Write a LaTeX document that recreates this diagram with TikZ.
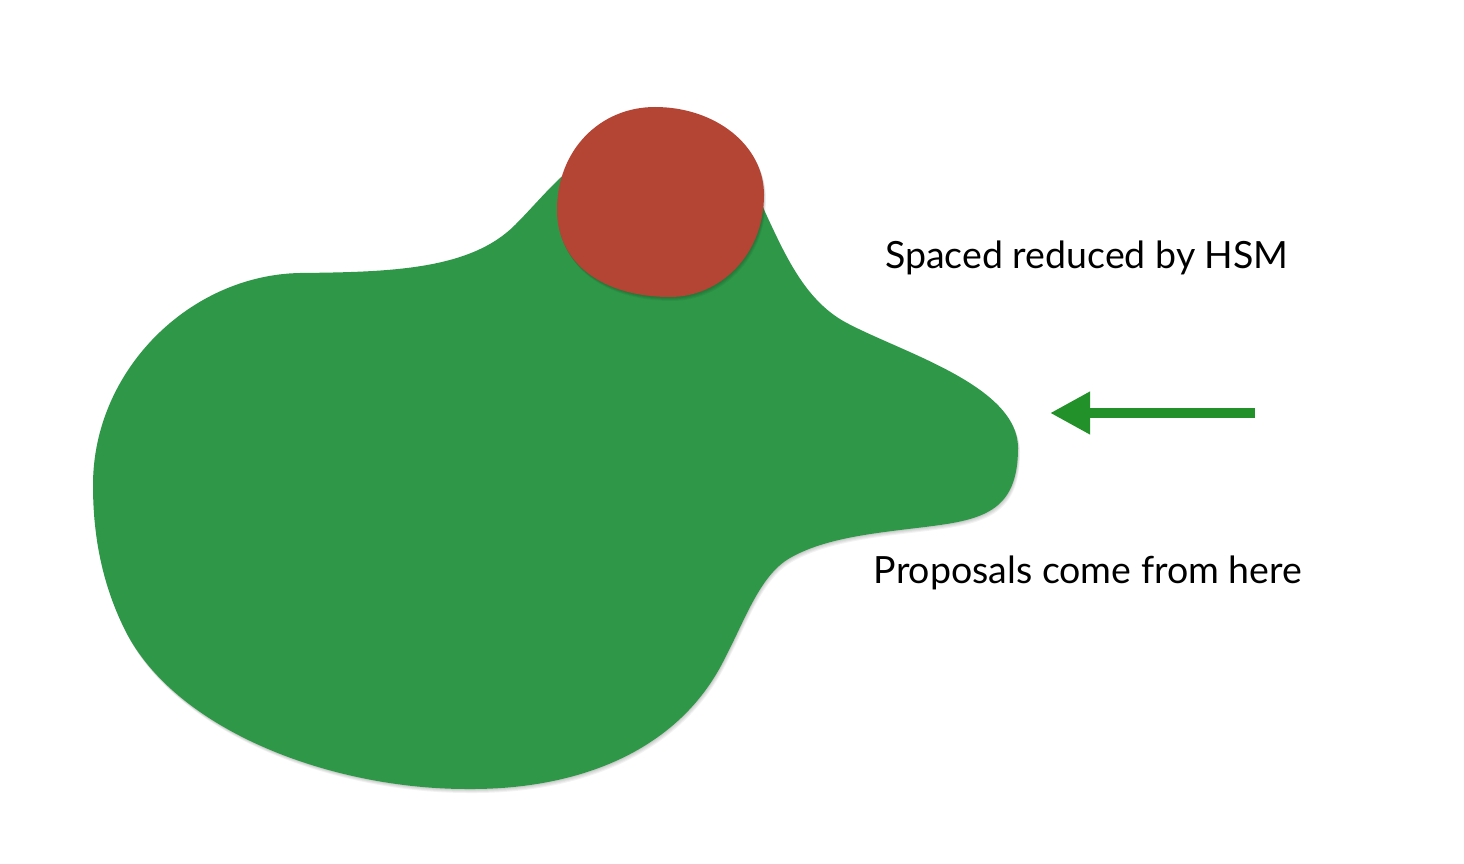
\documentclass[tikz,border=0pt]{standalone}
\usepackage{fontspec}
\setmainfont{Lato}
\usetikzlibrary{arrows.meta}
\definecolor{blobgreen}{RGB}{47,152,72}
\definecolor{blobred}{RGB}{180,68,52}
\definecolor{arrowgreen}{RGB}{34,145,42}
\tikzset{
  lbl/.style={font=\fontsize{37.5}{44}\selectfont, text=black, inner sep=0pt},
  pointer/.style={draw=arrowgreen, line width=10pt, -{Triangle[length=40pt,width=40pt]}},
  softshadow/.style={fill=black, opacity=0.05}
}
\def\greenpath{(93,485) .. controls (93,370) and (190,275) .. (300,273)
  .. controls (390,272) and (470,270) .. (515,225)
  .. controls (545,195) and (570,160) .. (610,145)
  .. controls (650,130) and (700,140) .. (740,170)
  .. controls (755,185) and (760,200) .. (765,212)
  .. controls (785,255) and (805,300) .. (845,322)
  .. controls (900,352) and (1018,385) .. (1018,448)
  .. controls (1018,505) and (990,518) .. (940,525)
  .. controls (890,532) and (830,535) .. (790,558)
  .. controls (760,575) and (745,620) .. (725,658)
  .. controls (680,750) and (580,790) .. (467,789)
  .. controls (330,789) and (175,730) .. (125,630)
  .. controls (100,580) and (93,530) .. (93,485) -- cycle}
\def\redpath{(655,107) .. controls (715,107) and (764,145) .. (764,195)
  .. controls (764,255) and (720,297) .. (670,297)
  .. controls (605,297) and (557,265) .. (557,210)
  .. controls (557,150) and (600,107) .. (655,107) -- cycle}
\begin{document}
\begin{tikzpicture}[x=1pt,y=-1pt]
\useasboundingbox[fill=white] (0,0) rectangle (1464,864);
% soft shadows
\foreach \d in {1,2,3,4}{
  \fill[softshadow, shift={(0.5*\d,\d)}] \greenpath;
}
\fill[blobgreen] \greenpath;
\foreach \d in {1,2,3,4}{
  \fill[softshadow, shift={(0.5*\d,\d)}] \redpath;
}
\fill[blobred] \redpath;
% labels
\node[lbl] (hsm) at (1087,258) {Spaced reduced by HSM};
\node[lbl] (prop) at (1088,573) {Proposals come from here};
% arrow
\coordinate (arrowfrom) at (1255,413);
\coordinate (arrowto) at (1050,413);
\draw[pointer] (arrowfrom) -- (arrowto);
\end{tikzpicture}
\end{document}
